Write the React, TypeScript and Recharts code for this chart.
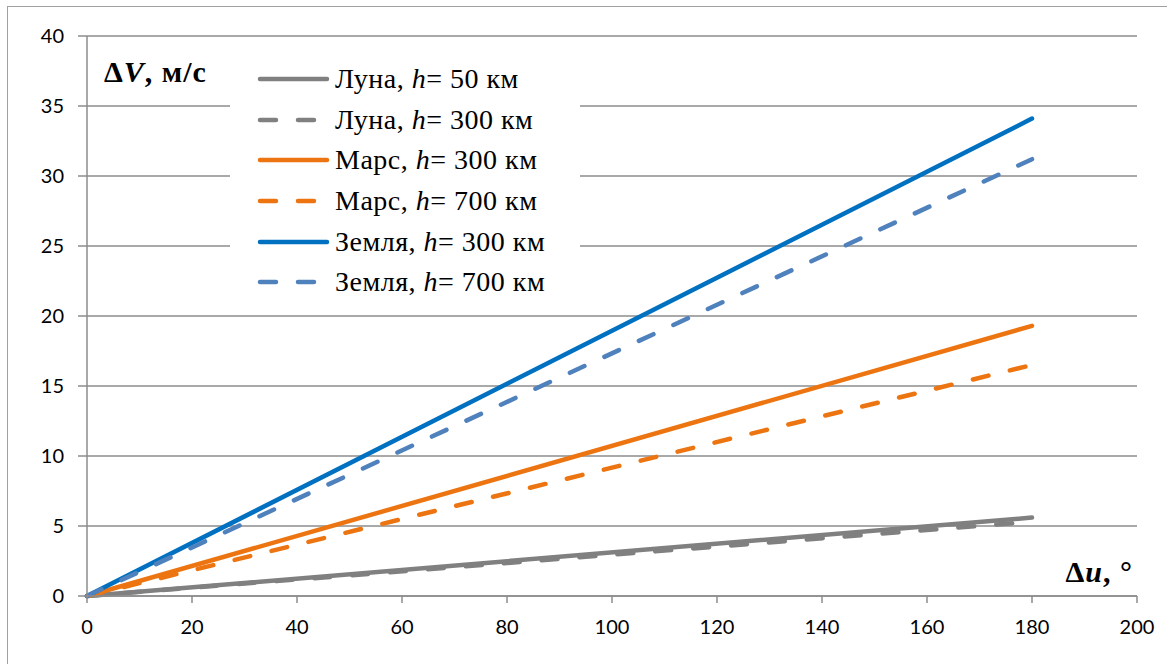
import React from "react"
import { LineChart, Line, XAxis, YAxis, CartesianGrid, Legend, Label } from "recharts"

// angle of transfer, degrees
const angles = [0, 180]

// delta V, m/s
const lunaH50 = [0, 5.6]
const lunaH300 = [0, 5.3]
const marsH300 = [0, 19.3]
const marsH700 = [0, 16.5]
const earthH300 = [0, 34.1]
const earthH700 = [0, 31.2]

const bodies = ["Луна", "Луна", "Марс", "Марс", "Земля", "Земля"]
const heights = [50, 300, 300, 700, 300, 700]

const xTicks = [0, 20, 40, 60, 80, 100, 120, 140, 160, 180, 200]
const yTicks = [0, 5, 10, 15, 20, 25, 30, 35, 40]

const seriesValues = [lunaH50, lunaH300, marsH300, marsH700, earthH300, earthH700]
const keys = ["l50", "l300", "m300", "m700", "e300", "e700"]
const colors = ["#808080", "#808080", "#ED7511", "#ED7511", "#0070C0", "#4F81BD"]
const dashed = [false, true, false, true, false, true]

const rows = angles.map((a, i) => {
  const row: Record<string, number> = { u: a }
  keys.forEach((k, s) => {
    row[k] = seriesValues[s][i]
  })
  return row
})

const GRID = "#8c8c8c"
const DASH = "16 22"
const SERIF = "'Liberation Serif', 'Times New Roman', serif"

function LegendBox() {
  return (
    <div style={{ paddingTop: 7 }}>
      {keys.map((k, i) => (
        <div key={k} style={{ height: 40.6, display: "flex", alignItems: "center" }}>
          <svg width={105} height={20} style={{ flex: "none" }}>
            <line
              x1={30}
              x2={97}
              y1={10}
              y2={10}
              stroke={colors[i]}
              strokeWidth={4.5}
              strokeLinecap="round"
              strokeDasharray={dashed[i] ? DASH : undefined}
            />
          </svg>
          <span style={{ fontFamily: SERIF, fontSize: 28, letterSpacing: 0.5, color: "#000", whiteSpace: "nowrap", lineHeight: 1 }}>
            {bodies[i]}, <i>h</i>= {heights[i]} км
          </span>
        </div>
      ))}
    </div>
  )
}

export default function App() {
  return (
    <div style={{ position: "absolute", left: 0, top: 0, width: 1167, height: 664, overflow: "hidden", background: "#fff" }}>
      <div
        style={{
          position: "absolute",
          left: 7,
          top: 6,
          width: 1300,
          height: 800,
          border: "1.5px solid #a0a0a0",
        }}
      />
      <div style={{ position: "absolute", left: 0, top: 0 }}>
        <LineChart width={1167} height={664} data={rows} margin={{ top: 36, right: 30, bottom: 28, left: 0 }}>
          <CartesianGrid vertical={false} stroke={GRID} strokeWidth={1.5} />
          <XAxis
            dataKey="u"
            type="number"
            domain={[0, 200]}
            ticks={xTicks}
            height={40}
            tickSize={7}
            tickMargin={17}
            axisLine={{ stroke: GRID, strokeWidth: 1.5 }}
            tickLine={{ stroke: GRID, strokeWidth: 1.5 }}
            tick={{ fill: "#000", fontSize: 20, fontFamily: "Lato, sans-serif" }}
            interval={0}
          >
            <Label
              content={(p: any) => {
                const vb = p.viewBox || { x: 87, y: 596, width: 1050 }
                return (
                  <text
                    x={vb.x + vb.width - 4}
                    y={vb.y - 14}
                    textAnchor="end"
                    fontFamily={SERIF}
                    fontSize={30}
                    fontWeight="bold"
                    letterSpacing={1}
                    fill="#000"
                  >
                    Δ<tspan fontStyle="italic">u</tspan>, °
                  </text>
                )
              }}
            />
          </XAxis>
          <YAxis
            type="number"
            domain={[0, 40]}
            ticks={yTicks}
            width={87}
            tickSize={9}
            tickMargin={14}
            axisLine={{ stroke: GRID, strokeWidth: 1.5 }}
            tickLine={{ stroke: GRID, strokeWidth: 1.5 }}
            tick={{ fill: "#000", fontSize: 20, fontFamily: "Lato, sans-serif" }}
            interval={0}
          >
            <Label
              content={(p: any) => {
                const vb = p.viewBox || { x: 0, y: 36, width: 87 }
                return (
                  <text
                    x={vb.x + vb.width + 17}
                    y={vb.y + 46}
                    fontFamily={SERIF}
                    fontSize={30}
                    fontWeight="bold"
                    letterSpacing={1}
                    fill="#000"
                  >
                    Δ<tspan fontStyle="italic">V</tspan>, м/с
                  </text>
                )
              }}
            />
          </YAxis>
          {keys.map((k, i) => (
            <Line
              key={k}
              dataKey={k}
              type="linear"
              stroke={colors[i]}
              strokeWidth={4.5}
              strokeLinecap="round"
              strokeDasharray={dashed[i] ? DASH : undefined}
              dot={false}
              activeDot={false}
              isAnimationActive={false}
            />
          ))}
          <Legend
            layout="vertical"
            align="center"
            verticalAlign="middle"
            content={() => <LegendBox />}
            wrapperStyle={{ left: 230, top: 52, width: 350, height: 250, background: "#fff" }}
          />
        </LineChart>
      </div>
    </div>
  )
}
